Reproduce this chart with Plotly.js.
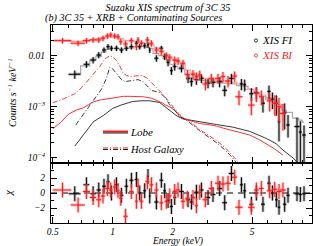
<!DOCTYPE html>
<html><head><meta charset="utf-8">
<script src="https://cdn.plot.ly/plotly-3.0.1.min.js"></script>
<style>html,body{margin:0;padding:0;background:#fff}#chart{width:314px;height:246px}</style>
</head><body><div id="chart"></div>
<script>
// ---- XIS FI (black) spectrum ----
const fiE = [0.645,0.738,0.797,0.851,0.904,0.947,0.985,1.044,1.106,1.171,1.241,1.315,1.366,1.447,1.503,1.534,1.656,1.754,1.823,1.895,1.97,2.047,2.212,2.388,2.483,2.63,2.787,3.008,3.186,3.441,3.647,3.94,4.424,4.594,4.963,5.258,5.675,6.085,6.33,6.625,6.83,7.29,7.58,8.41,8.74,9.12];
const fiY = [0.00432,0.00678,0.00823,0.0103,0.0129,0.015,0.014,0.014,0.0129,0.014,0.015,0.0175,0.015,0.0157,0.0162,0.0129,0.0089,0.014,0.0096,0.0074,0.0051,0.0061,0.0057,0.0036,0.0031,0.0034,0.0036,0.0029,0.0030,0.0031,0.0021,0.0036,0.0028,0.0027,0.0018,0.0019,0.00117,0.0020,0.0014,0.00117,0.00051,0.00076,0.00044,0.00041,0.00032,0.00028];
const fiXerr = [0.045,0.025,0.025,0.022,0.02,0.018,0.018,0.025,0.025,0.025,0.03,0.025,0.025,0.025,0.015,0.015,0.04,0.04,0.03,0.03,0.035,0.035,0.06,0.06,0.05,0.06,0.07,0.08,0.09,0.1,0.1,0.12,0.08,0.08,0.12,0.13,0.13,0.12,0.12,0.1,0.1,0.15,0.15,0.25,0.15,0.2];
const fiYerrUp = [0.0008,0.001,0.0012,0.0014,0.0016,0.0018,0.0017,0.0017,0.0016,0.0017,0.0018,0.002,0.0018,0.0019,0.0019,0.0016,0.0013,0.0016,0.0014,0.0012,0.0009,0.001,0.001,0.0007,0.0006,0.0007,0.0007,0.0006,0.0006,0.0007,0.0005,0.0008,0.0007,0.0007,0.0005,0.0005,0.0004,0.0006,0.0005,0.0005,0.00047,0.0004,0.00025,0.0002,0.0002,0.00015];
const fiYerrDown = [0.0008,0.001,0.0012,0.0014,0.0016,0.0018,0.0017,0.0017,0.0016,0.0017,0.0018,0.002,0.0018,0.0019,0.0019,0.0016,0.0013,0.0016,0.0014,0.0012,0.0009,0.001,0.001,0.0007,0.0006,0.0007,0.0007,0.0006,0.0006,0.0007,0.0005,0.0008,0.0007,0.0007,0.0005,0.0005,0.0004,0.0006,0.0005,0.0005,0.0003,0.0004,0.00019,0.00037,0.0003,0.00026];
const fiModel = [0.0045,0.0063,0.0082,0.0098,0.0118,0.0132,0.0138,0.0138,0.0135,0.0138,0.0142,0.0150,0.0153,0.0150,0.0145,0.0138,0.0110,0.0100,0.0088,0.0078,0.0068,0.0062,0.0055,0.0042,0.0037,0.0034,0.0033,0.0032,0.0031,0.0030,0.0029,0.0028,0.0026,0.0025,0.0022,0.0019,0.0016,0.0015,0.0014,0.0013,0.0011,0.00085,0.00078,0.0006,0.00055,0.0005];
const fiResid = [-0.1,1.1,-0.1,0.4,0.9,1.5,0,1.1,-0.3,0.9,1.7,1.8,0,0.3,2.2,-0.4,-1.2,1.7,0.3,-1.0,-1.8,-0.6,0.2,-0.9,-1.2,0.1,0.4,-0.6,-0.2,0.6,-1.3,2.6,1.1,0.3,-1.5,0,-1.5,1.3,0,-0.9,-1.9,-1.5,-0.3,-0.1,-0.2,-0.1];

// ---- XIS BI (red) spectrum ----
const biE = [0.56,0.67,0.738,0.797,0.851,0.894,0.94,0.977,1.023,1.063,1.097,1.16,1.241,1.315,1.34,1.393,1.493,1.564,1.656,1.754,1.858,1.932,2.047,2.127,2.253,2.371,2.529,2.63,2.733,2.918,3.126,3.376,3.575,3.79,4.093,4.303,4.963,5.258,5.57,6.131,6.5,6.83,7.149];
const biY = [0.0197,0.0175,0.0197,0.0203,0.0203,0.0219,0.0243,0.0255,0.0243,0.0236,0.0188,0.017,0.0197,0.015,0.0203,0.0175,0.0203,0.0175,0.0129,0.012,0.010,0.0091,0.0082,0.0079,0.0071,0.0043,0.0043,0.0039,0.0042,0.0028,0.0036,0.0036,0.0039,0.0032,0.0040,0.00157,0.00108,0.00183,0.00157,0.00131,0.00117,0.001,0.00074];
const biXerr = [0.06,0.055,0.03,0.03,0.025,0.022,0.022,0.02,0.02,0.02,0.02,0.03,0.03,0.02,0.02,0.03,0.035,0.035,0.04,0.04,0.04,0.04,0.05,0.05,0.06,0.06,0.06,0.05,0.06,0.1,0.1,0.12,0.1,0.12,0.12,0.18,0.19,0.15,0.15,0.2,0.2,0.2,0.25];
const biYerr = [0.0025,0.0022,0.0025,0.0025,0.0025,0.0027,0.003,0.003,0.003,0.003,0.0025,0.0025,0.0027,0.0022,0.0028,0.0025,0.003,0.0025,0.002,0.0019,0.0016,0.0015,0.0014,0.0013,0.0012,0.0009,0.0009,0.0008,0.0009,0.0007,0.0008,0.0008,0.0009,0.0008,0.0009,0.0005,0.0004,0.0006,0.0005,0.0005,0.0005,0.0005,0.0004];
const biModel = [0.0195,0.0190,0.0195,0.0205,0.0215,0.0225,0.0232,0.0235,0.0232,0.0225,0.0215,0.0200,0.0195,0.0190,0.0185,0.0180,0.0175,0.0165,0.0140,0.0125,0.0105,0.0095,0.0082,0.0076,0.0068,0.0052,0.0045,0.0041,0.0039,0.0036,0.0034,0.0033,0.0032,0.0031,0.0030,0.0028,0.0022,0.0019,0.0017,0.0014,0.0012,0.0011,0.00095];
const biResid = [0.4,-1.6,0.2,-0.6,-0.9,-0.4,0.6,0.4,0.8,0.3,-0.7,-3.1,0.2,-1.1,0.9,-1.1,1.5,1.1,0.4,-1.3,-1.1,-0.4,0.2,0.4,-1.1,-0.7,-0.6,-1.7,0.1,-0.9,0.6,1.3,1.2,1.3,2.1,-1.9,-1.9,0.4,0.6,0.3,0.5,0.2,0.4];

// ---- model components ----
const lobeFiE = [0.645,0.7,0.75,0.8,0.9,1.0,1.1,1.26,1.4,1.53,1.72,1.84,1.9,2.0,2.1,2.25,2.5,2.73,3.31,4.0,4.87,5.9,6.6,7.15,8.03,8.47,8.8];
const lobeFiY = [0.00017,0.00026,0.00038,0.00051,0.00068,0.00093,0.00108,0.00127,0.00131,0.00131,0.00121,0.001,0.00088,0.00078,0.00066,0.00058,0.00054,0.0005,0.00045,0.0004,0.00033,0.00024,0.00019,0.000142,0.0001,0.00008,0.00006];
const lobeBiE = [0.5,0.55,0.6,0.66,0.71,0.8,0.86,0.97,1.13,1.22,1.42,1.56,1.66,1.78,1.84,1.93,2.05,2.17,2.25,2.5,2.73,3.0,3.31,3.6,4.0,4.4,4.87,5.4,5.9,6.5,7.15];
const lobeBiY = [0.00037,0.0005,0.00072,0.00087,0.00095,0.00125,0.00135,0.00146,0.0016,0.0016,0.00157,0.00148,0.00135,0.00118,0.00108,0.001,0.00085,0.00064,0.00059,0.00052,0.00047,0.00045,0.00042,0.00038,0.00034,0.00031,0.00028,0.00023,0.00019,0.00015,0.000113];
const hostFiE = [0.652,0.7,0.767,0.83,0.877,0.93,0.966,1.0,1.044,1.1,1.15,1.264,1.34,1.42,1.5,1.56,1.72,1.84,1.93,2.17,2.43,2.73,3.31,3.72,4.09,4.3];
const hostFiY = [0.00044,0.00065,0.0011,0.0017,0.0022,0.0036,0.0059,0.0055,0.0045,0.0035,0.0031,0.0033,0.0034,0.0031,0.0025,0.0021,0.0019,0.0015,0.0011,0.00066,0.00049,0.00034,0.0002,0.000135,0.00009,0.00007];
const hostBiE = [0.5,0.56,0.645,0.7,0.767,0.82,0.861,0.91,0.966,1.0,1.044,1.09,1.126,1.17,1.217,1.3,1.4,1.48,1.56,1.65,1.72,1.8,1.93,2.17,2.43,2.73,3.31,3.72,4.09,4.3];
const hostBiY = [0.0012,0.0014,0.0018,0.0024,0.0036,0.0048,0.0061,0.0085,0.0100,0.0095,0.0080,0.0060,0.0046,0.0041,0.0039,0.0040,0.0041,0.0037,0.0030,0.0024,0.0021,0.0017,0.0012,0.0007,0.00052,0.00036,0.00022,0.00015,0.0001,0.00008];

// ---- ticks ----
const xTickVals = [0.5,1,2,5];
const xTickText = ['0.5','1','2','5'];
const xMinorVals = [0.6,0.7,0.8,0.9,3,4,6,7,8,9];
const yTickVals = [1e-4,1e-3,1e-2];
const yTickText = ['10<sup>−4</sup>','10<sup>−3</sup>','0.01'];
const yMinorVals = [2e-4,3e-4,4e-4,5e-4,6e-4,7e-4,8e-4,9e-4,2e-3,3e-3,4e-3,5e-3,6e-3,7e-3,8e-3,9e-3,2e-2,3e-2];
const rTickVals = [-2,0,2];
const rTickText = ['−2','0','2'];
const rMinorVals = [-3,-1,1,3];
const residOnes = fiResid.map(()=>1);
const residOnesBi = biResid.map(()=>1);

const serif = 'Liberation Serif, Times New Roman, serif';
const fnt = (s,c)=>({family:serif, size:s, color:c||'#000', style:'italic'});
const RED = '#ff1a1a';
const DD = '5px,2px,1px,2px';

function dataTrace(x,y,xe,yu,yd,color,thick,xa,ya){
  return {x:x,y:y,xaxis:xa,yaxis:ya,type:'scatter',mode:'markers',
    marker:{size:1,color:color},hoverinfo:'skip',
    error_x:{type:'data',array:xe,color:color,thickness:thick,width:0},
    error_y:{type:'data',symmetric:false,array:yu,arrayminus:yd,color:color,thickness:thick,width:0}};
}
const GH = 'rgba(90,90,90,0.35)', RH = 'rgba(255,90,90,0.38)';

const traces = [
  {x:fiE,y:fiModel,xaxis:'x',yaxis:'y',mode:'lines',line:{shape:'hvh',color:'#a8a8a8',width:1.2}},
  {x:biE,y:biModel,xaxis:'x',yaxis:'y',mode:'lines',line:{shape:'hvh',color:'#ffa0a0',width:1.2}},
  {x:lobeFiE,y:lobeFiY,xaxis:'x',yaxis:'y',mode:'lines',line:{color:'#222',width:0.9}},
  {x:lobeBiE,y:lobeBiY,xaxis:'x',yaxis:'y',mode:'lines',line:{color:RED,width:0.9}},
  {x:hostFiE,y:hostFiY,xaxis:'x',yaxis:'y',mode:'lines',line:{color:'#222',width:0.9,dash:DD}},
  {x:hostBiE,y:hostBiY,xaxis:'x',yaxis:'y',mode:'lines',line:{color:RED,width:0.9,dash:DD}},
  dataTrace(fiE,fiY,fiXerr,fiYerrUp,fiYerrDown,GH,3,'x','y'),
  dataTrace(fiE,fiY,fiXerr,fiYerrUp,fiYerrDown,'#000',1,'x','y'),
  dataTrace(biE,biY,biXerr,biYerr,biYerr,RH,3,'x','y'),
  dataTrace(biE,biY,biXerr,biYerr,biYerr,RED,1,'x','y'),
  dataTrace(fiE,fiResid,fiXerr,residOnes,residOnes,GH,3,'x2','y2'),
  dataTrace(fiE,fiResid,fiXerr,residOnes,residOnes,'#000',1,'x2','y2'),
  dataTrace(biE,biResid,biXerr,residOnesBi,residOnesBi,RH,3,'x2','y2'),
  dataTrace(biE,biResid,biXerr,residOnesBi,residOnesBi,RED,1,'x2','y2')
];

const axBase = {showline:true,linecolor:'#000',linewidth:1,mirror:'ticks',ticks:'inside',ticklen:6,tickwidth:1,tickcolor:'#000',showgrid:false,zeroline:false,tickfont:fnt(9.5)};
const PB = 223, PH = 198;
function px2x(p){return (p-51)/261;}
function px2y(p){return (PB-p)/PH;}
const split = px2y(163);

const layout = {
  width:314,height:246,margin:{l:51,r:2,t:25,b:23},
  paper_bgcolor:'#fff',plot_bgcolor:'#fff',showlegend:false,
  title:{text:'Suzaku XIS spectrum of 3C 35',x:168/314,xanchor:'center',y:1-7.5/246,yanchor:'middle',font:fnt(10.3)},
  xaxis:Object.assign({},axBase,{type:'log',range:[Math.log10(0.49),1.0],domain:[0,1],anchor:'y',showticklabels:false,tickvals:xTickVals,ticktext:xTickText,minor:{tickvals:xMinorVals,ticks:'inside',ticklen:3,tickcolor:'#000'},matches:'x2'}),
  xaxis2:Object.assign({},axBase,{type:'log',range:[Math.log10(0.49),1.0],domain:[0,1],anchor:'y2',tickvals:xTickVals,ticktext:xTickText,tickfont:fnt(9.5),minor:{tickvals:xMinorVals,ticks:'inside',ticklen:3,tickcolor:'#000'},ticklabelstandoff:0}),
  yaxis:Object.assign({},axBase,{type:'log',range:[-4.1,-1.4],domain:[split,1],anchor:'x',tickvals:yTickVals,ticktext:yTickText,minor:{tickvals:yMinorVals,ticks:'inside',ticklen:3,tickcolor:'#000'},ticklabelstandoff:3}),
  yaxis2:Object.assign({},axBase,{range:[-4,4],domain:[0,split],anchor:'x2',tickvals:rTickVals,ticktext:rTickText,minor:{tickvals:rMinorVals,ticks:'inside',ticklen:3,tickcolor:'#000'},ticklabelstandoff:3}),
  shapes:[
    {type:'line',xref:'x2 domain',x0:0,x1:1,yref:'y2',y0:0,y1:0,line:{color:'#000',width:1,dash:'6px,5px'},layer:'below'},
    {type:'line',xref:'paper',yref:'paper',x0:px2x(103),x1:px2x(128),y0:px2y(131.5),y1:px2y(131.5),line:{color:RED,width:2}},
    {type:'line',xref:'paper',yref:'paper',x0:px2x(103),x1:px2x(128),y0:px2y(133),y1:px2y(133),line:{color:'#222',width:1}},
    {type:'line',xref:'paper',yref:'paper',x0:px2x(103),x1:px2x(128),y0:px2y(148),y1:px2y(148),line:{color:RED,width:1.2,dash:DD}},
    {type:'line',xref:'paper',yref:'paper',x0:px2x(103),x1:px2x(128),y0:px2y(149.5),y1:px2y(149.5),line:{color:'#222',width:1,dash:DD}},
    {type:'circle',xref:'paper',yref:'paper',xsizemode:'pixel',ysizemode:'pixel',xanchor:px2x(256),yanchor:px2y(40.5),x0:-1.6,x1:1.6,y0:-1.6,y1:1.6,line:{color:'#000',width:0.8}},
    {type:'circle',xref:'paper',yref:'paper',xsizemode:'pixel',ysizemode:'pixel',xanchor:px2x(256),yanchor:px2y(55.5),x0:-1.6,x1:1.6,y0:-1.6,y1:1.6,line:{color:RED,width:0.8}}
  ],
  annotations:[
    {text:'(b) 3C 35 + XRB + Contaminating Sources',xref:'paper',yref:'paper',x:px2x(44),y:px2y(18.5),xanchor:'left',yanchor:'middle',showarrow:false,font:fnt(10.2),borderpad:0},
    {text:'XIS FI',xref:'paper',yref:'paper',x:px2x(261),y:px2y(40),xanchor:'left',yanchor:'middle',showarrow:false,font:fnt(11),borderpad:0},
    {text:'XIS BI',xref:'paper',yref:'paper',x:px2x(261),y:px2y(55),xanchor:'left',yanchor:'middle',showarrow:false,font:fnt(11,RED),borderpad:0},
    {text:'Lobe',xref:'paper',yref:'paper',x:px2x(129),y:px2y(132),xanchor:'left',yanchor:'middle',showarrow:false,font:fnt(11),borderpad:0},
    {text:'Host Galaxy',xref:'paper',yref:'paper',x:px2x(129),y:px2y(149),xanchor:'left',yanchor:'middle',showarrow:false,font:fnt(10.5),borderpad:0},
    {text:'Counts s<sup>−1</sup> keV<sup>−1</sup>',xref:'paper',yref:'paper',x:px2x(12),y:px2y(93),xanchor:'center',yanchor:'middle',textangle:-90,showarrow:false,font:fnt(10),borderpad:0},
    {text:'χ',xref:'paper',yref:'paper',x:px2x(8),y:px2y(193),xanchor:'center',yanchor:'middle',textangle:-90,showarrow:false,font:fnt(11),borderpad:0},
    {text:'Energy (keV)',xref:'paper',yref:'paper',x:px2x(177),y:px2y(241.5),xanchor:'center',yanchor:'middle',showarrow:false,font:fnt(9.5),borderpad:0}
  ]
};
Plotly.newPlot('chart',traces,layout,{displayModeBar:false,staticPlot:true});
</script></body></html>
